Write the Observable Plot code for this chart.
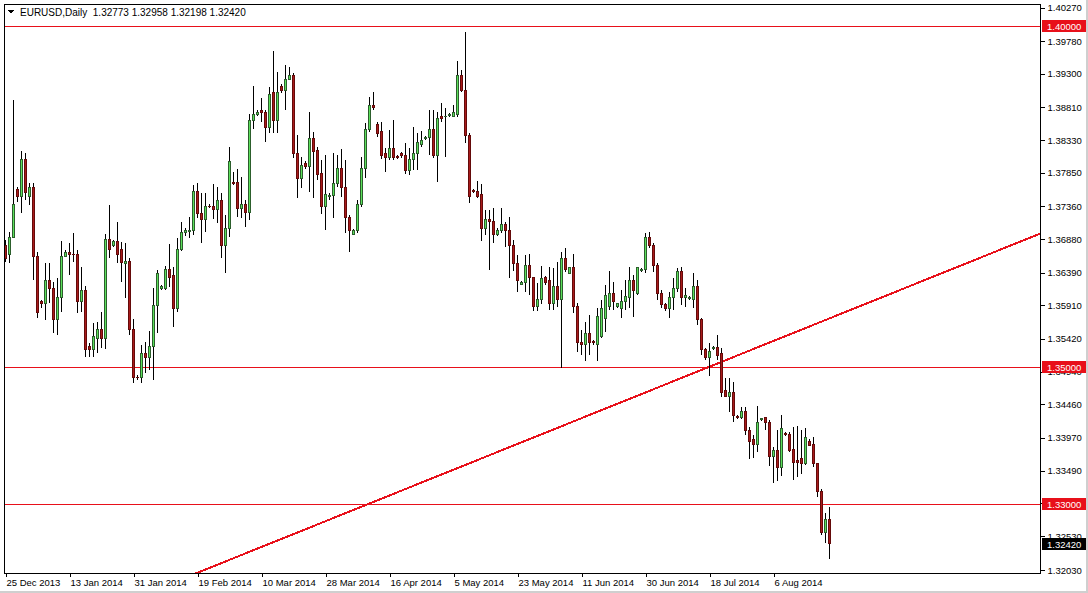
<!DOCTYPE html>
<html><head><meta charset="utf-8">
<script src="https://cdn.jsdelivr.net/npm/d3@7"></script>
<script src="https://cdn.jsdelivr.net/npm/@observablehq/plot@0.6"></script>
<style>
html,body{margin:0;padding:0;background:#fff;}
#chart{position:relative;width:1088px;height:593px;overflow:hidden;background:#fff;}
svg{shape-rendering:crispEdges;}
</style></head><body><div id="chart"></div>
<script>
const symbol = "EURUSD,Daily";
// daily bars (Sun-Fri), first bar = 25 Dec 2013
const open = [1.3679,1.3665,1.3691,1.3760,1.3750,1.3805,1.3750,1.3763,1.3662,1.3597,
1.3593,1.3627,1.3615,1.3570,1.3603,1.3663,1.3669,1.3666,1.3665,1.3596,
1.3613,1.3531,1.3526,1.3543,1.3555,1.3542,1.3687,1.3678,1.3684,1.3672,
1.3652,1.3655,1.3555,1.3486,1.3486,1.3521,1.3514,1.3531,1.3590,1.3616,
1.3616,1.3643,1.3634,1.3586,1.3673,1.3697,1.3699,1.3700,1.3757,1.3726,
1.3717,1.3736,1.3735,1.3732,1.3744,1.3678,1.3704,1.3771,1.3771,1.3733,
1.3739,1.3727,1.3861,1.3870,1.3876,1.3874,1.3852,1.3902,1.3862,1.3912,
1.3906,1.3922,1.3927,1.3814,1.3776,1.3799,1.3794,1.3835,1.3818,1.3784,
1.3736,1.3751,1.3752,1.3770,1.3791,1.3764,1.3720,1.3695,1.3700,1.3739,
1.3791,1.3849,1.3884,1.3856,1.3845,1.3813,1.3808,1.3821,1.3809,1.3813,
1.3811,1.3789,1.3805,1.3814,1.3826,1.3835,1.3836,1.3849,1.3810,1.3867,
1.3867,1.3869,1.3868,1.3871,1.3927,1.3906,1.3840,1.3759,1.3758,1.3753,
1.3704,1.3716,1.3714,1.3695,1.3701,1.3710,1.3701,1.3679,1.3652,1.3622,
1.3625,1.3650,1.3631,1.3589,1.3600,1.3631,1.3627,1.3594,1.3618,1.3600,
1.3659,1.3638,1.3646,1.3589,1.3537,1.3534,1.3549,1.3538,1.3534,1.3546,
1.3572,1.3589,1.3608,1.3589,1.3587,1.3597,1.3603,1.3627,1.3609,1.3642,
1.3643,1.3690,1.3678,1.3650,1.3608,1.3592,1.3586,1.3602,1.3615,1.3641,
1.3602,1.3601,1.3600,1.3618,1.3570,1.3526,1.3515,1.3528,1.3529,1.3521,
1.3466,1.3458,1.3464,1.3428,1.3427,1.3436,1.3408,1.3394,1.3387,1.3424,
1.3426,1.3420,1.3369,1.3378,1.3354,1.3404,1.3402,1.3380,1.3364,1.3366,
1.3360,1.3392,1.3387,1.3359,1.3319,1.3258,1.32773];
const high = [1.3687,1.3698,1.3892,1.3764,1.3817,1.3814,1.3770,1.3770,1.3669,1.3599,
1.3653,1.3653,1.3625,1.3631,1.3685,1.3672,1.3682,1.3697,1.3672,1.3647,
1.3619,1.3536,1.3565,1.3567,1.3581,1.3695,1.3738,1.3687,1.3713,1.3684,
1.3682,1.3660,1.3571,1.3489,1.3533,1.3537,1.3553,1.3616,1.3643,1.3621,
1.3649,1.3681,1.3647,1.3690,1.3713,1.3704,1.3720,1.3767,1.3770,1.3756,
1.3756,1.3739,1.3769,1.3764,1.3756,1.3723,1.3823,1.3786,1.3791,1.3779,
1.3745,1.3871,1.3912,1.3877,1.3894,1.3877,1.3911,1.3963,1.3933,1.3915,
1.3943,1.3940,1.3931,1.3840,1.3808,1.3802,1.3874,1.3845,1.3823,1.3804,
1.3811,1.3756,1.3814,1.3811,1.3820,1.3804,1.3723,1.3703,1.3745,1.3808,
1.3858,1.3896,1.3903,1.3859,1.3859,1.3821,1.3848,1.3862,1.3811,1.3816,
1.3829,1.3821,1.3852,1.3843,1.3846,1.3839,1.3877,1.3877,1.3874,1.3887,
1.3880,1.3873,1.3884,1.3949,1.3936,1.3991,1.3843,1.3761,1.3773,1.3769,
1.3731,1.3731,1.3733,1.3704,1.3733,1.3713,1.3720,1.3687,1.3665,1.3627,
1.3665,1.3666,1.3632,1.3624,1.3649,1.3634,1.3647,1.3646,1.3655,1.3669,
1.3675,1.3647,1.3666,1.3594,1.3555,1.3567,1.3577,1.3540,1.3587,1.3599,
1.3621,1.3641,1.3625,1.3594,1.3613,1.3628,1.3647,1.3635,1.3647,1.3646,
1.3697,1.3698,1.3682,1.3653,1.3613,1.3594,1.3611,1.3631,1.3646,1.3647,
1.3616,1.3605,1.3638,1.3628,1.3572,1.3529,1.3536,1.3531,1.3548,1.3529,
1.3485,1.3485,1.3479,1.3431,1.3442,1.3442,1.3413,1.3401,1.3444,1.3426,
1.3427,1.3423,1.3384,1.3408,1.3430,1.3405,1.3405,1.3413,1.3414,1.3408,
1.3411,1.3395,1.3398,1.3360,1.3322,1.3287,1.32958];
const low = [1.3655,1.3653,1.3690,1.3742,1.3726,1.3745,1.3738,1.3628,1.3572,1.3587,
1.3570,1.3594,1.3550,1.3548,1.3581,1.3662,1.3635,1.3655,1.3580,1.3581,
1.3515,1.3515,1.3515,1.3521,1.3529,1.3527,1.3660,1.3677,1.3653,1.3625,
1.3602,1.3548,1.3477,1.3482,1.3477,1.3492,1.3496,1.3482,1.3550,1.3613,
1.3613,1.3618,1.3559,1.3581,1.3671,1.3692,1.3690,1.3694,1.3719,1.3682,
1.3698,1.3733,1.3717,1.3712,1.3660,1.3639,1.3691,1.3767,1.3720,1.3719,
1.3706,1.3716,1.3849,1.3868,1.3859,1.3830,1.3843,1.3843,1.3843,1.3902,
1.3877,1.3921,1.3807,1.3748,1.3763,1.3791,1.3757,1.3748,1.3775,1.3725,
1.3701,1.3745,1.3719,1.3764,1.3750,1.3697,1.3669,1.3694,1.3697,1.3735,
1.3777,1.3845,1.3877,1.3837,1.3805,1.3786,1.3804,1.3804,1.3805,1.3807,
1.3783,1.3782,1.3789,1.3789,1.3823,1.3833,1.3811,1.3807,1.3772,1.3859,
1.3808,1.3867,1.3867,1.3867,1.3903,1.3829,1.3741,1.3755,1.3748,1.3685,
1.3694,1.3643,1.3682,1.3692,1.3697,1.3677,1.3631,1.3641,1.3611,1.3621,
1.3611,1.3606,1.3583,1.3583,1.3593,1.3621,1.3584,1.3584,1.3589,1.3499,
1.3640,1.3637,1.3580,1.3523,1.3518,1.3509,1.3518,1.3533,1.3509,1.3543,
1.3552,1.3584,1.3584,1.3587,1.3572,1.3584,1.3587,1.3574,1.3606,1.3640,
1.3638,1.3675,1.3640,1.3599,1.3587,1.3583,1.3572,1.3584,1.3611,1.3592,
1.3589,1.3599,1.3587,1.3562,1.3518,1.3511,1.3488,1.3525,1.3511,1.3457,
1.3457,1.3435,1.3420,1.3425,1.3425,1.3401,1.3366,1.3368,1.3376,1.3421,
1.3408,1.3356,1.3331,1.3334,1.3341,1.3400,1.3376,1.3335,1.3340,1.3344,
1.3357,1.3385,1.3354,1.3310,1.3255,1.3243,1.32198];
const close = [1.3660,1.3691,1.3738,1.3750,1.3805,1.3756,1.3763,1.3662,1.3580,1.3594,
1.3627,1.3615,1.3570,1.3603,1.3663,1.3669,1.3665,1.3665,1.3596,1.3613,
1.3526,1.3526,1.3545,1.3555,1.3542,1.3687,1.3673,1.3684,1.3665,1.3653,
1.3655,1.3555,1.3485,1.3485,1.3521,1.3514,1.3531,1.3590,1.3637,1.3619,
1.3643,1.3632,1.3586,1.3673,1.3697,1.3701,1.3700,1.3758,1.3726,1.3717,
1.3736,1.3735,1.3732,1.3744,1.3678,1.3704,1.3801,1.3769,1.3733,1.3739,
1.3727,1.3861,1.3870,1.3874,1.3873,1.3852,1.3899,1.3862,1.3903,1.3905,
1.3922,1.3927,1.3814,1.3776,1.3795,1.3794,1.3835,1.3816,1.3782,1.3736,
1.3753,1.3752,1.3770,1.3791,1.3764,1.3720,1.3700,1.3701,1.3739,1.3791,
1.3849,1.3884,1.3880,1.3843,1.3811,1.3808,1.3821,1.3808,1.3808,1.3810,
1.3789,1.3805,1.3814,1.3829,1.3832,1.3836,1.3849,1.3810,1.3865,1.3864,
1.3868,1.3870,1.3873,1.3927,1.3906,1.3840,1.3751,1.3758,1.3751,1.3704,
1.3716,1.3713,1.3695,1.3701,1.3710,1.3701,1.3679,1.3652,1.3627,1.3625,
1.3650,1.3631,1.3589,1.3600,1.3630,1.3625,1.3594,1.3618,1.3599,1.3659,
1.3643,1.3646,1.3589,1.3537,1.3534,1.3549,1.3537,1.3537,1.3574,1.3587,
1.3606,1.3608,1.3596,1.3593,1.3597,1.3604,1.3627,1.3613,1.3646,1.3643,
1.3690,1.3678,1.3650,1.3608,1.3592,1.3586,1.3603,1.3615,1.3641,1.3602,
1.3606,1.3602,1.3618,1.3570,1.3526,1.3515,1.3523,1.3529,1.3518,1.3464,
1.3458,1.3464,1.3429,1.3427,1.3436,1.3408,1.3392,1.3387,1.3420,1.3425,
1.3419,1.3370,1.3378,1.3354,1.3411,1.3402,1.3379,1.3361,1.3361,1.3360,
1.3397,1.3386,1.3359,1.3318,1.3258,1.3277,1.32420];
const dateTicks = [0,16,32,48,64,80,96,112,128,144,160,176,192];
const dateLabels = ["25 Dec 2013","13 Jan 2014","31 Jan 2014","19 Feb 2014","10 Mar 2014","28 Mar 2014","16 Apr 2014","5 May 2014","23 May 2014","11 Jun 2014","30 Jun 2014","18 Jul 2014","6 Aug 2014"];
const priceTicks = [1.40270,1.39780,1.39300,1.38810,1.38330,1.37850,1.37360,1.36880,1.36390,1.35910,1.35420,1.34940,1.34460,1.33970,1.33490,1.33010,1.32530,1.32030];
const levels = [1.40000, 1.35000, 1.33000];
const trendBars = [40, 270];
const trendPrices = [1.31813, 1.37234];

const bullFill = "#5be05b", bullEdge = "#2c5e2c";
const bearFill = "#a81a1a", bearEdge = "#640a0a";
const lineRed = "#e8101a";
const FONT = "'Liberation Sans', Arial, sans-serif";

const candles = open.map((o, i) => ({bar: i, o, h: high[i], l: low[i], c: close[i], up: close[i] >= o}));
const trend = trendBars.map((b, k) => ({bar: b, price: trendPrices[k]}));
const last = candles[candles.length - 1];
const bodies = candles.filter(d => Math.abs(d.o - d.c) > 0.00025);

const chart = Plot.plot({
  width: 1088, height: 593,
  marginLeft: 4, marginRight: 48, marginTop: 4, marginBottom: 20,
  x: {domain: [-0.25, 258.75], axis: null},
  y: {domain: [1.31990, 1.40322], axis: null},
  color: {type: "identity"},
  style: {fontFamily: FONT, fontSize: "9.5px", background: "white", color: "black", overflow: "visible"},
  marks: [
    Plot.ruleY(levels, {stroke: lineRed, strokeWidth: 1}),
    Plot.line(trend, {x: "bar", y: "price", stroke: lineRed, strokeWidth: 2, clip: true}),
    Plot.ruleX(candles, {x: "bar", y1: "l", y2: "h", stroke: "black", strokeWidth: 1}),
    // body edge (3 px wide)
    Plot.rect(candles, {x1: d => d.bar - 0.375, x2: d => d.bar + 0.375, y1: "o", y2: "c",
      fill: d => d.up ? bullEdge : bearEdge, insetTop: -0.5, insetBottom: -0.5}),
    // body fill (centre column)
    Plot.rect(bodies, {x1: d => d.bar - 0.125, x2: d => d.bar + 0.125, y1: "o", y2: "c",
      fill: d => d.up ? bullFill : bearFill, insetTop: 0.5, insetBottom: 0.5}),
    Plot.frame({stroke: "black"}),
    Plot.axisY({anchor: "right", ticks: priceTicks, tickFormat: d => d.toFixed(5), tickSize: 4, tickPadding: 3, fontSize: 9.5, label: null}),
    Plot.axisX({anchor: "bottom", ticks: dateTicks, tickFormat: (d, k) => dateLabels[k], tickSize: 4, tickPadding: 2, textAnchor: "start", dx: 1, fontSize: 9.5, label: null})
  ]
});

document.getElementById("chart").appendChild(chart);

const svg = d3.select(chart);
const ys = chart.scale("y");
const xs = chart.scale("x");
const right = xs.apply(258.75);

function priceBox(v, label, fill) {
  const y = Math.round(ys.apply(v));
  const g = svg.append("g");
  g.append("rect").attr("x", right + 2).attr("y", y - 6).attr("width", 45).attr("height", 12).attr("fill", fill);
  g.append("text").attr("x", right + 7).attr("y", y + 3.5).attr("fill", "white")
    .attr("text-anchor", "start").attr("font-family", FONT).attr("font-size", "9.5px").text(label);
}
levels.forEach(v => priceBox(v, v.toFixed(5), lineRed));
priceBox(last.c, last.c.toFixed(5), "black");

// header
svg.append("path").attr("d", "M8,10 L14,10 L11,14 Z").attr("fill", "black");
svg.append("text").attr("x", 20).attr("y", 16).attr("fill", "black").attr("text-anchor", "start")
  .attr("font-family", FONT).attr("font-size", "10px")
  .style("white-space", "pre")
  .text(`${symbol}  ${last.o.toFixed(5)} ${last.h.toFixed(5)} ${last.l.toFixed(5)} ${last.c.toFixed(5)}`);
// outer window edges
svg.append("rect").attr("x", 1086).attr("y", 0).attr("width", 2).attr("height", 593).attr("fill", "#cfcfcf");
svg.append("rect").attr("x", 0).attr("y", 591).attr("width", 1088).attr("height", 2).attr("fill", "#cfcfcf");
</script></body></html>
